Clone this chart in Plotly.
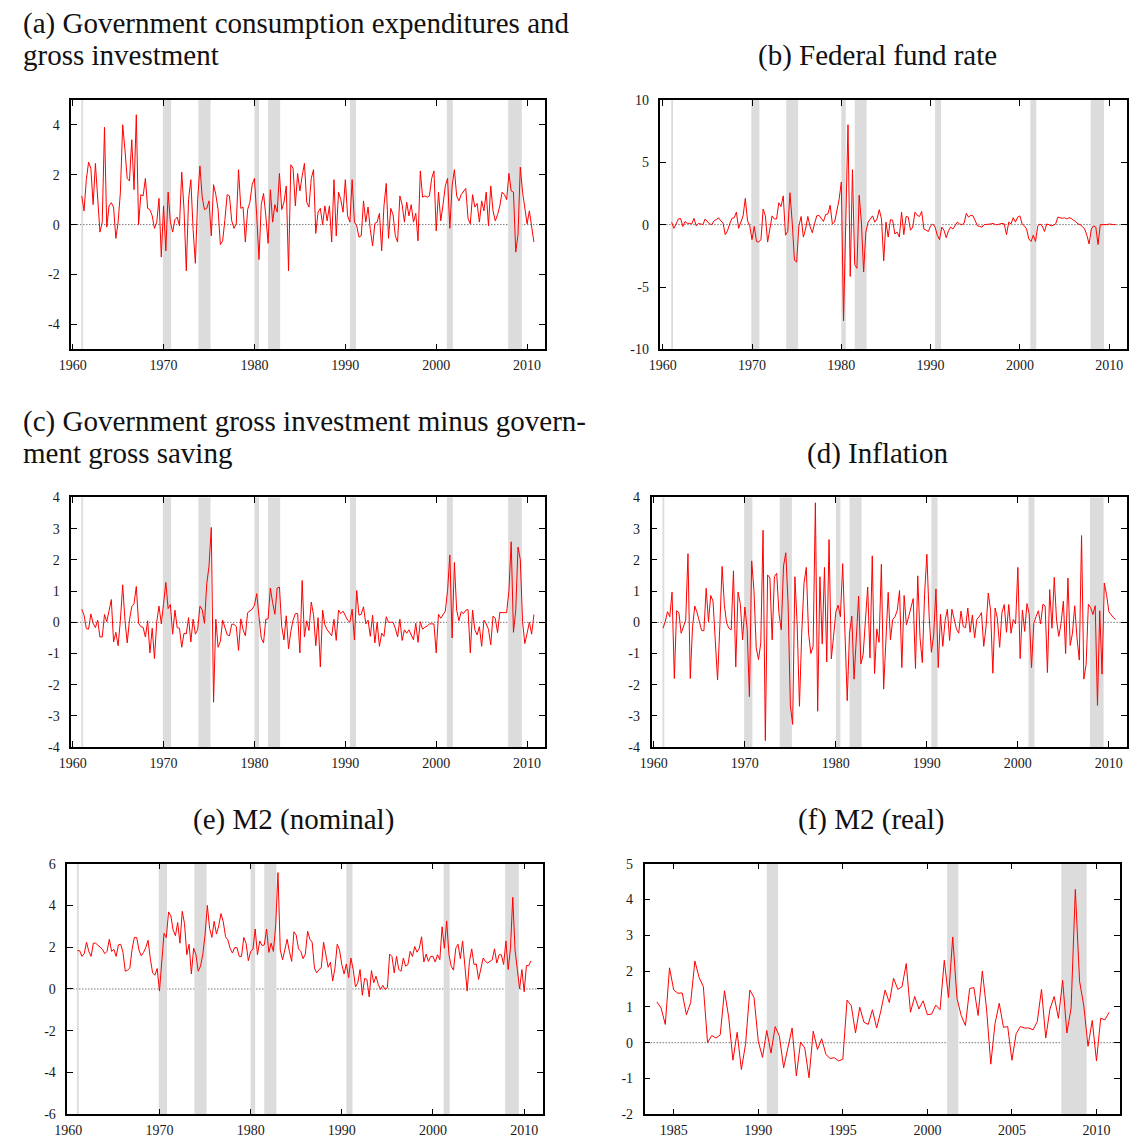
import plotly.graph_objects as go

W, H = 1132, 1146

# ---------------- data (quarterly) ----------------
start_main = 1961.0   # first quarter of panels (a)-(e)
start_real = 1984.0   # first quarter of panel (f)

gov_consumption = [
    1.15, 0.55, 1.8, 2.5, 2.25, 0.8, 2.45, 1.0, -0.3, 0.1,
    3.9, -0.1, 0.75, 0.88, 0.7, -0.55, 0.1, 1.3, 4.0, 3.0,
    1.85, 1.75, 3.4, 1.4, 4.4, 0.0, 1.2, 1.15, 1.85, 0.65,
    0.6, 0.35, -0.15, 0.1, 1.05, -1.3, 0.75, -1.05, 1.3, 0.1,
    -0.3, 0.2, 0.3, -0.05, 2.1, 0.6, -1.85, 1.0, 1.8, -0.2,
    -1.55, 1.0, 2.35, 1.1, 0.6, 0.65, 0.95, -0.45, 1.6, 1.2,
    0.6, -0.8, -0.65, 0.2, 1.2, 1.15, 0.15, -0.15, 0.03, 2.2,
    0.65, 0.7, -0.7, 0.6, 0.9, 1.6, 1.85, 0.35, -1.4, 0.8,
    1.25, 0.35, -0.75, 1.4, 0.1, 0.8, 0.5, 2.05, 0.6, 0.9,
    1.55, -1.85, 2.4, 2.25, 0.75, 2.05, 1.35, 1.95, 2.45, 0.9,
    0.7, 1.85, 2.2, -0.35, 0.5,
    0.65, 0.0, 0.75, 0.15, 0.75, -0.7, 1.8, -0.45, 1.3, 1.0,
    0.5, 1.8, 0.35, 0.1, 1.8, 0.1, -0.05, -0.5, -0.45, 0.95,
    0.1, 0.7, -0.2, -0.85, 0.05, 0.1, 0.45, -1.05, 0.75, 1.65,
    -0.55, 0.65, 0.4, -0.45, -0.7, 1.15, 0.8, 0.1, 0.9, 0.35,
    0.8, 0.1, 0.45, -0.65, 2.15, 1.1, 1.15, 1.1, 1.15, 1.85,
    2.15, -0.25, 1.3, 0.15, 0.8, 1.55, 1.85, -0.15, 1.55, 2.2,
    1.15, 0.95, 1.2, 1.35, 1.45, 0.25, 0.03, 1.2, 0.7, 0.85,
    0.1, 0.95, 0.55, 1.3, -0.05, 1.55, 0.55, 0.15, 0.4, 0.75,
    1.3, 1.2, 1.0, 2.05, 1.35, 1.3, -1.1, -0.4, 2.3, 1.3,
    0.7, 0.03, 0.55, -0.05, -0.7,
]

fed_funds = [
    0.2, -0.3, 0.05, 0.45, 0.5, -0.15, 0.25, 0.1, 0.1, 0.05,
    0.5, -0.1, 0.1, 0.05, 0.0, 0.45, 0.25, 0.05, 0.0, 0.3,
    0.4, 0.55, 0.3, 0.15, -0.8, -0.5, 0.05, 0.5, 0.55, 1.0,
    -0.3, 0.25, 0.7, 2.1, 0.3, -0.1, -1.2, -0.15, -1.35, -1.4,
    -1.2, 1.25, 0.7, -1.4, -0.35, 0.7, 0.45, 0.45, 1.75, 1.45,
    2.3, -0.85, -0.55, 2.55, 0.2, -2.85, -3.0, -0.1, 0.65, -1.0,
    -0.35, 0.65, -0.15, -0.65, 0.05, 0.7, 0.75, 0.45, 0.25, 0.8,
    0.85, 1.55, 0.05, 0.2, 1.1, 2.0, 3.4, -7.7, 0.2, 8.0,
    -4.15, 4.4, -3.2, -3.5, 2.35, 0.2, -3.8, -0.6, 0.2, 0.45,
    0.7, 0.2, 0.45, 1.2, 0.45, -2.9, 0.2, -1.0, 0.4, 0.35,
    -0.75, -0.6, -1.0, 1.0,
    -0.8, 0.65, 0.6, -0.45, -0.2, 1.0, 0.75, 0.65, 1.05, -0.35,
    -0.45, -0.55, -0.1, 0.05, -0.2, -0.85, -1.2, -0.2, -0.45, -1.05,
    -0.5, -0.2, -0.35, -0.1, 0.2, 0.05, 0.0, 0.1, 0.9, 0.6,
    0.75, 0.7, 0.3, -0.1, -0.15, -0.2, 0.0, 0.0, 0.05, 0.05,
    0.1, 0.0, 0.0, 0.05, 0.1, 0.05, -0.8, 0.2, 0.05, 0.55,
    0.2, 0.6, 0.7, 0.05, -0.1, -0.35, -1.15, -1.35, -0.85, -1.35,
    -0.1, 0.05, -0.1, -0.55, 0.05, 0.0, -0.1, -0.05, 0.05, 0.6,
    0.55, 0.5, 0.55, 0.45, 0.55, 0.5, 0.35, 0.25, 0.05, 0.0,
    -0.15, -0.35, -0.85, -1.55, -0.35, -0.1, -0.2, -1.6, 0.0, 0.0,
    -0.05, 0.0, 0.05, 0.0, 0.0, 0.0,
]

gov_inv_minus_saving = [
    0.42, 0.23, -0.2, -0.22, 0.27, -0.03, -0.17, 0.07, -0.47, -0.47,
    0.25, 0.02, 0.37, 0.73, -0.63, -0.32, -0.75, 0.07, 1.2, 0.07,
    -0.66, 0.07, 0.5, 0.6, 1.15, -0.03, -0.14, -0.16, -0.47, 0.05,
    -0.98, -0.19, -1.16, 0.02, 0.52, -0.05, 0.6, 1.28, 0.44, 0.57,
    -0.38, 0.39, -0.17, -0.19, -0.8, -0.35, -0.37, 0.15, -0.63, 0.1,
    -0.38, -0.24, 0.52, 0.41, -0.03, 1.23, 1.8, 3.04, -2.56, 0.1,
    -0.8, -0.61, 0.07, -0.19, -0.4, -0.43, -0.06, -0.06, -0.14, -0.9,
    0.11, -0.24, -0.43, 0.31, 0.36, 0.42, 0.55, 0.92, 0.18, -0.5,
    -0.66, 0.1, 0.11, 1.1, 0.63, 0.26, 1.1, 1.13, -0.14, -0.56,
    0.21, -0.85, -0.29, 0.07, 0.28, 0.28, -0.98, 1.34, -0.47, 0.05,
    -0.26, 0.65, 0.25, -0.75, 0.15,
    -1.43, 0.39, -0.08, -0.24, -0.35, -0.43, 0.1, -0.58, 0.39, 0.28,
    0.36, 0.23, 0.07, 0.0, 0.42, -0.56, 1.02, 0.23, 0.26, 0.5,
    -0.05, 0.07, -0.45, 0.23, -0.66, 0.0, -0.77, -0.35, -0.45, 0.18,
    0.0, 0.0, 0.0, -0.19, -0.47, 0.1, -0.58, -0.24, -0.35, -0.24,
    -0.38, -0.56, -0.03, -0.64, 0.02, -0.22, -0.16, -0.12, -0.05, -0.05,
    -0.05, -0.98, 0.26, 0.13, 0.23, 0.36, 1.02, 2.16, -0.5, 1.92,
    0.39, 0.05, 0.34, 0.28, 0.39, 0.41, -0.98, 0.39, -0.24, -0.4,
    -0.14, -0.77, 0.07, -0.05, -0.22, -0.72, 0.2, 0.13, -0.33, 0.32,
    0.31, 0.31, 0.31, 1.02, 2.58, -0.32, 0.39, 2.41, 2.02, 0.02,
    -0.68, -0.35, 0.0, -0.38, 0.25,
]

inflation = [
    -0.19, 0.02, 0.34, 0.18, 0.97, -1.8, 0.37, 0.31, -0.35, -0.14,
    0.07, 2.2, -1.8, -0.14, 0.52, 0.31, -0.03, -0.26, -0.27, 1.09,
    0.02, 0.86, 0.68, -0.66, -1.85, -0.12, 1.79, 0.55, -0.03, -0.19,
    -0.24, 1.65, -1.43, 0.97, 0.6, -0.56, 0.49, -0.19, -2.38, 1.97,
    1.02, -0.82, -1.19, -0.66, 2.95, -3.79, 1.52, 1.42, -0.56, 1.47,
    1.57, 0.28, -0.24, 1.81, 2.23, 0.6, -2.66, -3.27, 1.46, -0.08,
    -2.69, -0.35, 1.25, 1.76, -0.35, -1.0, -0.77, 3.83, -2.85, 1.46,
    -0.69, 1.76, -1.27, 2.65, -1.17, -0.45, 0.34, 0.55, 0.18, 1.88,
    -0.35, -2.51, -0.35, 0.2, -1.82, -0.43, 0.84, -1.33, -1.03, 0.07,
    1.13, -1.14, 2.13, -1.64, -0.21, -0.64, 1.86, -2.14, -0.77, 0.96,
    -0.56, 0.09, 0.18, 0.39, 1.02, -1.45,
    0.86, -0.08, 0.18, 0.44, 0.76, -1.48, 1.49, -0.5, -1.29, 0.9,
    2.18, 0.2, -0.96, -0.4, 1.07, -1.45, 0.26, -0.77, 0.05, 0.42,
    -0.58, 0.42, 0.07, -0.21, -0.35, 0.36, -0.14, -0.17, 0.46, -0.32,
    0.23, -0.5, 0.1, 0.18, 0.31, -0.77, -0.16, 0.94, 0.39, -1.63,
    0.46, 0.13, -0.8, 0.31, 0.57, -0.32, 0.57, -0.35, 0.09, -0.05,
    1.76, -1.16, 0.39, -0.29, 0.6, 0.26, -1.45, -0.03, 0.18, 0.37,
    -0.05, 0.58, 0.52, -1.61, 1.05, -0.19, 1.44, 0.07, -0.45, -0.03,
    0.68, -1.0, 1.42, -0.74, -0.35, 0.53, -0.5, -1.21, 2.78, -1.82,
    -1.35, 0.58, 0.47, 0.25, 0.53, -2.66, 0.37, -1.66, 1.26, 0.88,
    0.34, 0.23, 0.15, 0.09,
]

m2_nominal = [
    1.84, 1.83, 1.56, 1.69, 2.24, 1.8, 1.56, 2.19, 2.19, 2.08,
    2.0, 1.9, 1.69, 1.8, 2.38, 1.8, 1.9, 1.56, 2.11, 2.14,
    1.75, 0.85, 0.9, 1.0, 1.9, 2.47, 2.47, 1.87, 1.59, 1.75,
    1.98, 2.33, 1.45, 0.77, 0.66, 0.98, -0.1, 1.32, 2.66, 2.46,
    3.69, 3.5, 2.82, 2.55, 3.18, 2.19, 3.72, 3.13, 1.64, 2.14,
    0.72, 1.95, 1.64, 0.85, 1.09, 1.64, 2.58, 4.0, 2.9, 2.47,
    3.24, 2.63, 3.02, 3.61, 3.21, 2.5, 2.35, 1.95, 1.72, 1.98,
    1.98, 1.56, 1.56, 2.47, 2.19, 1.35, 1.8, 1.9, 2.87, 1.64,
    2.3, 2.08, 2.11, 2.87, 1.75, 2.19, 1.8, 3.06, 5.57, 1.87,
    1.4, 1.87, 2.38, 1.8, 1.32, 2.74, 2.58, 1.92, 1.8, 1.45,
    1.67, 2.77, 2.38, 2.24, 1.0, 0.77, 0.93,
    1.02, 2.24, 1.64, 1.04, 1.28, 0.38, 1.0, 2.14, 1.87, 1.17,
    0.72, 1.2, 0.54, 1.48, 0.93, 0.1, 0.3, 0.93, -0.3, 0.5,
    0.46, -0.38, 0.88, 0.3, 0.61, 0.22, -0.02, 0.17, -0.02, 0.06,
    1.67, 1.56, 0.77, 1.56, 0.93, 0.85, 1.48, 1.09, 1.17, 1.8,
    1.56, 2.03, 1.76, 1.95, 2.5, 1.29, 1.67, 1.32, 1.56, 1.56,
    1.29, 1.64, 1.4, 2.98, 1.95, 3.26, 1.64, 1.09, 0.9, 1.95,
    2.14, 1.45, 2.3, 1.24, -0.1, 1.32, 1.92, 1.17, 1.2, 0.46,
    0.93, 1.48, 1.32, 1.24, 1.32, 1.4, 1.92, 1.24, 1.64, 1.64,
    1.17, 2.3, 0.93, 1.95, 4.39, 1.87, 0.93, 0.0, 0.93, -0.13,
    1.12, 1.12, 1.35,
]

m2_real = [
    1.14, 0.97, 0.51, 2.09, 1.47, 1.38, 1.39, 0.78, 1.12, 2.28,
    1.82, 1.57, 0.0, 0.2, 0.13, 0.22, 1.45, 0.71, -0.49, 0.29,
    -0.75, -0.03, 1.47, 1.26, 0.04, -0.41, 0.34, -0.29, 0.45, 0.18,
    -0.7, -0.15, 0.41, -0.93, 0.02, -0.15, -0.98, 0.32, -0.19, 0.11,
    -0.33, -0.44, -0.42, -0.51, -0.46, 1.19, 1.03, 0.27, 0.99, 0.57,
    0.51, 0.92, 0.41, 0.89, 1.47, 1.12, 1.8, 1.49, 1.56,
    2.21, 0.85, 1.29, 0.94, 1.17, 0.78, 0.8, 1.05, 0.92, 2.3,
    1.26, 2.95, 1.24, 0.76, 0.48, 1.51, 1.54, 0.76, 2.0, 0.94,
    -0.6, 0.53, 1.1, 0.43, 0.45, -0.49, 0.25, 0.45, 0.41, 0.41,
    0.36, 0.59, 1.49, 0.13, 0.94, 1.29, 0.68, 1.74, 0.27, 0.97,
    4.28, 1.72, 1.03, -0.1, 0.62, -0.51, 0.68, 0.64, 0.85,
]

# NBER recession periods (start, end) in decimal years
recession_start = [1960.95, 1969.92, 1973.83, 1980.0, 1981.5, 1990.5, 2001.17, 2007.92]
recession_end = [1961.15, 1970.83, 1975.17, 1980.5, 1982.83, 1991.17, 2001.83, 2009.42]

titles = [
    ["(a) Government consumption expenditures and", "gross investment"],
    ["(b) Federal fund rate"],
    ["(c) Government gross investment minus govern-", "ment gross saving"],
    ["(d) Inflation"],
    ["(e) M2 (nominal)"],
    ["(f) M2 (real)"],
]


# ---------------- helpers ----------------
def quarters(start, values):
    return [start + i / 4 for i in range(len(values))]


def tick_values(lo, hi, step, origin=0):
    first = origin + step * int(round((lo - origin) / step + 0.4999))
    vals = []
    v = first
    while v <= hi + 1e-9:
        vals.append(v)
        v += step
    return vals


# panel boxes in pixels: (left, right, top, bottom)
boxes = [
    (59, 538, 94, 347),
    (655, 1127, 94, 347),
    (59, 538, 497, 750),
    (646, 1127, 497, 750),
    (55, 536, 868, 1122),
    (639, 1120, 868, 1122),
]
xranges = [[1959.85, 2011.95], [1959.75, 2012.0], [1959.85, 2011.95],
           [1959.75, 2012.0], [1959.9, 2012.05], [1983.28, 2011.4]]
yranges = [[-5, 5], [-10, 10], [-4, 4], [-4, 4], [-6, 6], [-2, 5]]
ydticks = [2, 5, 1, 1, 2, 1]
xdticks = [10, 10, 10, 10, 10, 5]
series = [
    (start_main, gov_consumption),
    (start_main, fed_funds),
    (start_main, gov_inv_minus_saving),
    (start_main, inflation),
    (start_main, m2_nominal),
    (start_real, m2_real),
]

tick_font = dict(family="Liberation Serif, Times New Roman, serif", size=14, color="#1a1a1a")
title_font = dict(family="Liberation Serif, Times New Roman, serif", size=29, color="#111")

fig = go.Figure()
layout = dict(
    width=W, height=H, margin=dict(l=0, r=0, t=0, b=0, pad=0),
    paper_bgcolor="white", plot_bgcolor="white", showlegend=False,
)
shapes = []
annotations = []

for k, ((l, r, t, b), (st, vals)) in enumerate(zip(boxes, series)):
    n = "" if k == 0 else str(k + 1)
    xa, ya = "x" + n, "y" + n
    common = dict(
        ticks="inside", ticklen=6, tickwidth=1, tickcolor="black",
        showline=True, linecolor="black", linewidth=1.5, mirror="ticks",
        showgrid=False, zeroline=False, tickfont=tick_font, tickmode="array",
    )
    xt = tick_values(xranges[k][0], xranges[k][1], xdticks[k], 1960)
    yt = tick_values(yranges[k][0], yranges[k][1], ydticks[k], 0)
    layout["xaxis" + n] = dict(
        domain=[l / W, r / W], range=xranges[k], anchor=ya,
        tickvals=xt, ticktext=[str(int(v)) for v in xt], ticklabelstandoff=2, **common,
    )
    layout["yaxis" + n] = dict(
        domain=[1 - b / H, 1 - t / H], range=yranges[k], anchor=xa,
        tickvals=yt, ticktext=[str(int(v)) for v in yt], ticklabelstandoff=7, **common,
    )
    # dotted zero reference line
    shapes.append(dict(type="line", xref=xa + " domain", yref=ya, x0=0, x1=1, y0=0, y1=0,
                       line=dict(color="#333", width=1, dash="1px,2px"), layer="below"))
    # recession shading
    for s, e in zip(recession_start, recession_end):
        if e > xranges[k][0] and s < xranges[k][1]:
            shapes.append(dict(type="rect", xref=xa, yref=ya + " domain",
                               x0=max(s, xranges[k][0]), x1=min(e, xranges[k][1]),
                               y0=0, y1=1, fillcolor="#dcdcdc", line=dict(width=0),
                               layer="below"))
    fig.add_trace(go.Scatter(x=quarters(st, vals), y=vals, mode="lines",
                             line=dict(color="#ff0000", width=1),
                             xaxis=xa, yaxis=ya, hoverinfo="skip"))

# panel titles
title_pos = [
    ("left", 8, [17, 49]),
    ("center", 875, [49]),
    ("left", 8, [420, 452]),
    ("center", 875, [452]),
    ("center", 284, [823]),
    ("center", 868, [823]),
]
for lines, (anchor, px, pys) in zip(titles, title_pos):
    for text, py in zip(lines, pys):
        annotations.append(dict(text=text, x=px / W, y=1 - py / H, xref="paper", yref="paper",
                                xanchor=anchor, yanchor="middle", showarrow=False,
                                font=title_font))

layout["shapes"] = shapes
layout["annotations"] = annotations
fig.update_layout(**layout)
fig.write_html("out.html")
